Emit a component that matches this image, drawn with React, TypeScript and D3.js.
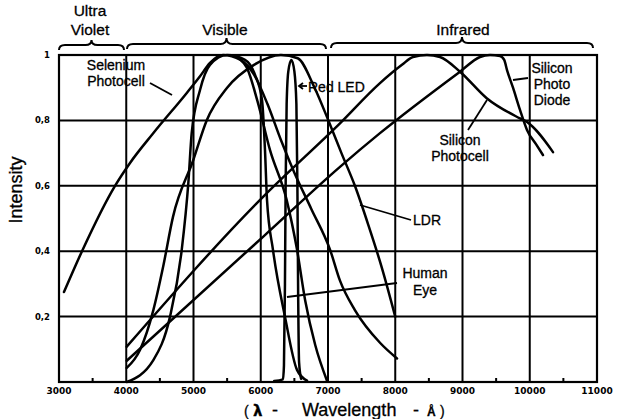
import React from 'react';
import * as d3 from 'd3';

// ---- data (wavelength in Å, relative intensity) ----
const xTickValues = [3000, 4000, 5000, 6000, 7000, 8000, 9000, 10000, 11000];
const minorTickValues = [3500, 4500, 5500, 6500, 7500, 8500, 9500, 10500];
const yTickValues = [0.2, 0.4, 0.6, 0.8, 1];
const yTickLabels = ['0,2', '0,4', '0,6', '0,8', '1'];

const seleniumPhotocell: [number, number][] = [
  [3074, 0.275], [3342, 0.4], [3833, 0.6], [4056, 0.67], [4398, 0.76], [4900, 0.884],
  [5097, 0.935], [5245, 0.976], [5440, 1.0], [5700, 0.985], [5900, 0.94], [6100, 0.85],
  [6300, 0.74], [6500, 0.64], [6750, 0.53], [7030, 0.405], [7178, 0.31], [7400, 0.22],
  [7773, 0.12], [8026, 0.072],
];
const seleniumFalloff: [number, number][] = [
  [5700, 0.985], [5791, 0.962], [5950, 0.86], [6138, 0.709], [6385, 0.557], [6540, 0.404],
  [6660, 0.25], [6810, 0.113], [6985, 0.004],
];
const humanEye: [number, number][] = [
  [4007, 0.0], [4403, 0.067], [4651, 0.2], [4825, 0.404], [4923, 0.608], [4973, 0.761],
  [5097, 0.893], [5245, 0.97], [5500, 1.0], [5766, 0.985], [5914, 0.94], [6019, 0.862],
  [6063, 0.709], [6093, 0.557], [6182, 0.404], [6361, 0.199], [6539, 0.037], [6688, 0.004],
];
const ldr: [number, number][] = [
  [4007, 0.043], [4204, 0.098], [4403, 0.22], [4546, 0.35], [4695, 0.505], [4997, 0.679],
  [5196, 0.8], [5500, 0.9], [5900, 0.97], [6300, 1.0], [6550, 0.99], [6800, 0.9],
  [7015, 0.795], [7200, 0.7], [7400, 0.6], [7600, 0.48], [7800, 0.35], [8000, 0.2],
];
const redLed: [number, number][] = [
  [6200, 0.003], [6330, 0.008], [6345, 0.05], [6360, 0.3], [6370, 0.6], [6385, 0.85],
  [6410, 0.95], [6455, 0.985], [6500, 0.95], [6530, 0.85], [6545, 0.6], [6555, 0.3],
  [6570, 0.06], [6600, 0.01],
];
const siliconPhotocell: [number, number][] = [
  [4007, 0.108], [6038, 0.567], [7178, 0.791], [7773, 0.914], [8100, 0.97], [8264, 0.994],
  [8472, 1.0], [8665, 0.994], [8963, 0.949], [9360, 0.868], [9855, 0.806], [9959, 0.795],
  [10346, 0.703],
];
const siliconPhotoDiode: [number, number][] = [
  [4007, 0.065], [6034, 0.444], [7178, 0.658], [7773, 0.761], [8963, 0.949], [9260, 0.994],
  [9409, 1.0], [9558, 0.997], [9620, 0.985], [9662, 0.954], [9751, 0.9], [9855, 0.832],
  [9959, 0.771], [10100, 0.725], [10197, 0.694],
];

const series = [seleniumPhotocell, seleniumFalloff, humanEye, ldr, redLed, siliconPhotocell, siliconPhotoDiode];

export default function App() {
  const W = 625, H = 419;
  const x = d3.scaleLinear().domain([3000, 11000]).range([59, 597]);
  const y = d3.scaleLinear().domain([0, 1]).range([382, 55]);
  const line = d3.line<[number, number]>()
    .x(d => x(d[0]))
    .y(d => y(d[1]))
    .curve(d3.curveMonotoneX);

  const brace = (x1: number, x2: number, yy: number, tipY: number) => {
    const m = (x1 + x2) / 2;
    return `M${x1},${yy + 5} Q${x1},${yy} ${x1 + 6},${yy} L${m - 6},${yy} Q${m},${yy} ${m},${tipY} Q${m},${yy} ${m + 6},${yy} L${x2 - 6},${yy} Q${x2},${yy} ${x2},${yy + 5}`;
  };

  const labelFont = 'Liberation Sans, Arial, Helvetica, sans-serif';
  const tickFont = 'DejaVu Sans, sans-serif';

  return (
    <svg width={W} height={H} style={{ position: 'absolute', left: 0, top: 0, background: '#fff' }}
      fontFamily={labelFont}>
      <rect x={0} y={0} width={W} height={H} fill="#fff" />
      {/* grid */}
      {xTickValues.slice(1, -1).map(v => (
        <line key={'gx' + v} x1={x(v)} x2={x(v)} y1={y(0)} y2={y(1)} stroke="#000" strokeWidth={2} />
      ))}
      {yTickValues.slice(0, -1).map(v => (
        <line key={'gy' + v} x1={x(3000)} x2={x(11000)} y1={y(v)} y2={y(v)} stroke="#000" strokeWidth={2} />
      ))}
      {minorTickValues.map(v => (
        <line key={'mt' + v} x1={x(v)} x2={x(v)} y1={y(0)} y2={y(0) - 4} stroke="#000" strokeWidth={2} />
      ))}
      {/* curves */}
      {series.map((s, i) => (
        <path key={'s' + i} d={line(s) || ''} fill="none" stroke="#000" strokeWidth={2.5}
          strokeLinejoin="round" strokeLinecap="round" />
      ))}
      {/* frame */}
      <rect x={x(3000)} y={y(1)} width={x(11000) - x(3000)} height={y(0) - y(1)} fill="none"
        stroke="#000" strokeWidth={2.2} />
      {/* tick labels */}
      {xTickValues.map(v => (
        <text key={'xl' + v} x={x(v)} y={394} textAnchor="middle" fontFamily={tickFont}
          fontWeight="bold" fontSize={9}>{v}</text>
      ))}
      {yTickValues.map((v, i) => (
        <text key={'yl' + v} x={50} y={y(v) + 3} textAnchor="end" fontFamily={tickFont}
          fontWeight="bold" fontSize={8.5}>{yTickLabels[i]}</text>
      ))}
      {/* axis titles */}
      <text transform="translate(22,190) rotate(-90)" textAnchor="middle" fontSize={18}
        stroke="#000" strokeWidth={0.3}>Intensity</text>
      <text y={416} fontSize={18} stroke="#000" strokeWidth={0.3}>
        <tspan x={244} fontSize={14}>(</tspan>
        <tspan x={253} fontWeight="bold" fontFamily={tickFont} fontSize={15}>λ</tspan>
        <tspan x={272}>-</tspan>
        <tspan x={302}>Wavelength</tspan>
        <tspan x={413}>-</tspan>
        <tspan x={427} fontWeight="bold" fontSize={12}>Å</tspan>
        <tspan x={440} fontSize={14}>)</tspan>
      </text>
      {/* spectrum band braces */}
      <g fill="none" stroke="#000" strokeWidth={2}>
        <path d={brace(59, 124, 45, 40)} />
        <path d={brace(127, 326, 44, 38)} />
        <path d={brace(331, 593, 43, 37)} />
      </g>
      <g fontSize={15.5} textAnchor="middle" stroke="#000" strokeWidth={0.3}>
        <text x={90} y={16}>Ultra</text>
        <text x={90} y={35}>Violet</text>
        <text x={225} y={35}>Visible</text>
        <text x={463} y={35}>Infrared</text>
      </g>
      {/* curve labels */}
      <g fontSize={14} stroke="#000" strokeWidth={0.3}>
        <text x={116} y={70} textAnchor="middle">Selenium</text>
        <text x={116} y={86} textAnchor="middle">Photocell</text>
        <text x={308} y={92}>Red LED</text>
        <text x={413} y={225}>LDR</text>
        <text x={425} y={278} textAnchor="middle">Human</text>
        <text x={425} y={295} textAnchor="middle">Eye</text>
        <text x={552} y={73} textAnchor="middle">Silicon</text>
        <text x={552} y={89} textAnchor="middle">Photo</text>
        <text x={552} y={105} textAnchor="middle">Diode</text>
        <text x={460} y={145} textAnchor="middle">Silicon</text>
        <text x={460} y={161} textAnchor="middle">Photocell</text>
      </g>
      <g fill="none" stroke="#000" strokeWidth={1.8}>
        <line x1={150} y1={83} x2={172} y2={95} />
        <line x1={307} y1={86} x2={300} y2={86} />
        <path d="M303,83 L299,86 L303,89" />
        <line x1={360} y1={205} x2={411} y2={220} />
        <line x1={287} y1={297} x2={397} y2={283} />
        <line x1={513} y1={80} x2={528} y2={78} />
        <line x1={468} y1={130} x2={487} y2={100} />
      </g>
    </svg>
  );
}
